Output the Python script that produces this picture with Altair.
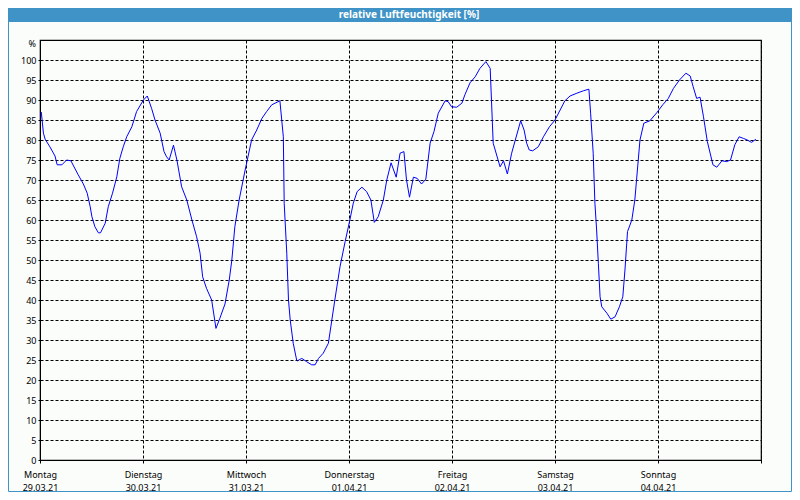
import altair as alt
import pandas as pd

# hours since Monday 29.03.21 00:00
hours = [0.3, 0.8, 1.2, 2.3, 3.5, 4.0, 5.1, 6.2, 7.2, 8.9, 10.1, 11.0, 11.7, 12.1, 12.8, 13.6, 14.1,
         15.2, 15.9, 16.9, 17.9, 18.6, 19.4, 20.2, 21.4, 22.5, 24.1, 25.0, 26.0, 26.8, 28.0, 28.9,
         29.5, 30.1, 31.1, 31.9, 33.0, 34.2, 35.4, 36.5, 37.3, 37.9, 38.8, 40.0, 41.0, 41.9, 43.1,
         44.1, 44.7, 45.4, 46.4, 47.8, 49.3, 50.5, 51.7, 52.8, 54.0, 55.9, 56.7, 56.9, 57.5, 57.9,
         58.3, 59.0, 59.8, 60.0, 61.0, 62.1, 63.3, 64.1, 64.9, 66.0, 67.2, 68.0, 68.7, 69.9, 71.1,
         72.2, 73.0, 73.9, 75.0, 76.1, 77.1, 77.9, 78.8, 80.0, 80.8, 81.8, 83.0, 83.9, 84.8, 85.4,
         86.1, 87.0, 87.9, 88.9, 89.9, 90.9, 91.8, 92.8, 94.4, 95.1, 95.9, 97.1, 98.3, 99.0, 100.2,
         101.4, 102.5, 103.9, 104.9, 105.6, 107.2, 108.0, 108.9, 109.9, 112.0, 112.8, 113.4, 114.0,
         114.8, 116.1, 117.3, 118.7, 120.0, 121.2, 122.3, 123.5, 125.1, 126.6, 127.9, 128.3, 128.9,
         129.3, 129.7, 130.1, 130.5, 130.9, 132.1, 133.0, 134.0, 135.0, 135.8, 136.3, 136.9, 137.9,
         138.6, 139.2, 139.8, 140.7, 142.1, 143.7, 145.1, 146.4, 147.6, 149.0, 150.5, 151.5, 152.2,
         153.0, 153.8, 154.6, 155.5, 156.8, 157.7, 158.9, 160.0, 160.9, 161.9, 162.9, 163.9, 164.8,
         165.8, 166.8]
rh = [87.0, 81.7, 80.2, 78.3, 76.0, 73.8, 73.8, 75.0, 74.8, 71.3, 69.0, 66.7, 63.3, 60.8, 58.3, 56.8, 56.8,
      59.2, 63.3, 66.7, 70.8, 75.4, 78.3, 80.8, 83.3, 87.1, 90.0, 91.0, 87.9, 85.0, 81.7, 77.1,
      75.8, 75.0, 78.7, 75.0, 68.3, 65.0, 60.0, 55.8, 51.7, 45.8, 42.9, 40.0, 32.9, 35.4, 39.0,
      45.0, 50.0, 58.3, 65.0, 72.5, 80.0, 82.5, 85.4, 87.1, 88.8, 89.8, 80.8, 64.2, 51.7, 40.0,
      35.0, 29.2, 25.0, 24.8, 25.4, 24.6, 23.8, 23.8, 25.4, 26.7, 29.2, 35.0, 40.0, 48.3, 54.6,
      60.0, 64.2, 67.1, 68.2, 67.1, 65.0, 59.4, 60.8, 65.0, 70.0, 74.3, 70.7, 76.7, 77.1, 70.0,
      65.7, 70.7, 70.4, 69.0, 70.2, 79.2, 82.1, 86.7, 89.8, 89.6, 88.3, 88.2, 89.2, 91.3, 94.3,
      95.8, 97.9, 99.6, 97.9, 79.2, 73.3, 74.8, 71.5, 76.7, 84.8, 82.5, 79.2, 77.5,
      77.3, 78.3, 80.8, 83.3, 85.0, 87.5, 89.8, 91.0, 91.7, 92.3, 92.7, 86.7, 76.7,
      64.2, 57.5, 49.2, 40.8, 38.3, 36.7, 35.2, 35.8, 38.3, 40.8, 47.5, 57.1, 60.0,
      65.0, 72.5, 80.0, 84.2, 84.8, 86.8, 88.8, 90.4, 92.9, 95.0, 96.7, 96.0, 93.3,
      90.4, 90.7, 85.8, 79.6, 73.8, 73.2, 74.8, 74.6, 75.0, 78.8, 80.8, 80.4, 80.0,
      79.4, 80.2]

day_names = ["Montag", "Dienstag", "Mittwoch", "Donnerstag", "Freitag", "Samstag", "Sonntag"]
day_dates = ["29.03.21", "30.03.21", "31.03.21", "01.04.21", "02.04.21", "03.04.21", "04.04.21"]
y_ticks = list(range(0, 101, 5))
x_ticks = list(range(0, 169, 24))
title_text = "relative Luftfeuchtigkeit [%]"
unit_text = "%"

FONT = "Noto Sans"
BLUE_BAR = "#3f93c6"

df = pd.DataFrame({"h": hours, "rh": rh})

names_js = "[" + ",".join("'%s'" % d for d in day_names) + "]"
dates_js = "[" + ",".join("'%s'" % d for d in day_dates) + "]"
label_expr = ("datum.value < 168 ? [%s[datum.value/24], %s[datum.value/24]] : ''"
              % (names_js, dates_js))

x_axis = alt.Axis(values=x_ticks, grid=True, gridColor="black", gridDash=[3, 2], gridOpacity=1,
                  gridWidth=1, labelExpr=label_expr, title=None, tickSize=3, tickColor="black",
                  domainColor="black", labelFont=FONT, labelFontSize=9, labelPadding=7,
                  labelLineHeight=13, labelColor="black", labelFlush=False, labelOverlap=False)
y_axis = alt.Axis(values=y_ticks, grid=True, gridColor="black", gridDash=[3, 2], gridOpacity=1,
                  gridWidth=1, title=None, tickSize=2, tickColor="black", domainColor="black",
                  labelFont=FONT, labelFontSize=9, labelPadding=2, labelColor="black",
                  labelOverlap=False)

line = alt.Chart(df).mark_line(color="#0000ff", strokeWidth=1).encode(
    x=alt.X("h:Q", scale=alt.Scale(domain=[0, 168], nice=False, zero=False), axis=x_axis),
    y=alt.Y("rh:Q", scale=alt.Scale(domain=[0, 105], nice=False), axis=y_axis),
)

one = pd.DataFrame({"t": [title_text], "u": [unit_text]})

bar = alt.Chart(one).mark_rect(color=BLUE_BAR, clip=False).encode(
    x=alt.value(-32), x2=alt.value(752), y=alt.value(-32), y2=alt.value(-18))
title = alt.Chart(one).mark_text(color="white", font=FONT, fontSize=10, fontWeight="bold",
                                 align="center", baseline="middle", clip=False).encode(
    x=alt.value(369), y=alt.value(-25), text="t:N")
unit = alt.Chart(one).mark_text(color="black", font=FONT, fontSize=9, align="right",
                                baseline="middle", clip=False).encode(
    x=alt.value(-4), y=alt.value(4), text="u:N")
frame = alt.Chart(one).mark_rect(fill=None, stroke=BLUE_BAR, strokeWidth=1, clip=False).encode(
    x=alt.value(-31.5), x2=alt.value(751.5), y=alt.value(-31.5), y2=alt.value(451.5))

chart = alt.layer(line, bar, title, unit, frame).properties(
    width=721, height=420,
    autosize=alt.AutoSizeParams(type="none"),
    padding={"left": 32, "top": 32, "right": 31, "bottom": 32},
    background="#fbfdfb",
).configure_view(stroke="black", strokeWidth=1.2)

chart.save("out.html", embed_options={"renderer": "svg", "actions": False})
